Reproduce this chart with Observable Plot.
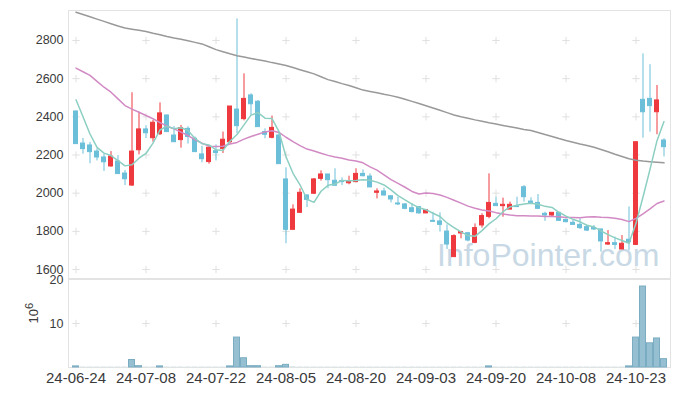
<!DOCTYPE html>
<html><head><meta charset="utf-8">
<script src="https://cdn.jsdelivr.net/npm/d3@7"></script>
<script src="https://cdn.jsdelivr.net/npm/@observablehq/plot@0.6"></script>
<style>
body{margin:0;background:#fff;}
#chart{width:673px;height:396px;position:relative;overflow:hidden;background:#fff;}
#chart svg{display:block;position:relative;overflow:visible;background:transparent;}
#wm{position:absolute;left:437px;top:239px;font:32px/32px "Liberation Sans",Arial,sans-serif;color:#c8d9e5;white-space:nowrap;}
</style></head><body><div id="chart"><div id="wm">InfoPointer.com</div></div>
<script>
const dates = ["24-06-24","24-06-25","24-06-26","24-06-27","24-06-28","24-07-01","24-07-02","24-07-03","24-07-04","24-07-05",
"24-07-08","24-07-09","24-07-10","24-07-11","24-07-12","24-07-15","24-07-16","24-07-17","24-07-18","24-07-19",
"24-07-22","24-07-23","24-07-24","24-07-25","24-07-26","24-07-29","24-07-30","24-07-31","24-08-01","24-08-02",
"24-08-05","24-08-06","24-08-07","24-08-08","24-08-09","24-08-12","24-08-13","24-08-14","24-08-16","24-08-19",
"24-08-20","24-08-21","24-08-22","24-08-23","24-08-26","24-08-27","24-08-28","24-08-29","24-08-30","24-09-02",
"24-09-03","24-09-04","24-09-05","24-09-06","24-09-09","24-09-10","24-09-11","24-09-12","24-09-13","24-09-19",
"24-09-20","24-09-23","24-09-24","24-09-25","24-09-26","24-09-27","24-09-30","24-10-02","24-10-04","24-10-07",
"24-10-08","24-10-10","24-10-11","24-10-14","24-10-15","24-10-16","24-10-17","24-10-18","24-10-21","24-10-22",
"24-10-23","24-10-24","24-10-25","24-10-28","24-10-29"];
const open = [2428,2260,2250,2218,2187,2140,2166,2103,2040,2225,
2334,2288,2309,2407,2302,2278,2337,2285,2203,2163,
2220,2232,2267,2438,2388,2512,2479,2320,2290,2302,
2072,1808,1897,1988,1997,2075,2098,2065,2063,2052,
2058,2101,2087,2002,2009,1984,1946,1941,1921,1927,
1894,1855,1852,1799,1665,1789,1790,1740,1831,1876,
1944,1932,1914,1930,2031,1956,1949,1892,1883,1897,
1860,1845,1834,1822,1818,1810,1731,1738,1705,1756,
1729,2489,2494,2424,2276];
const high = [2430,2287,2266,2232,2204,2218,2197,2119,2526,2424,
2353,2381,2473,2410,2349,2355,2348,2294,2246,2243,
2253,2320,2454,2913,2625,2521,2486,2337,2404,2320,
2133,1939,2023,1991,2077,2117,2098,2128,2080,2089,
2128,2122,2101,2023,2026,1984,1979,1946,1946,1927,
1911,1900,1897,1834,1782,1800,1795,1839,1892,2101,
1979,1974,1953,1979,2040,1976,1993,1900,1897,1897,
1865,1857,1866,1831,1831,1810,1804,1770,1778,1928,
2267,2730,2673,2564,2285];
const low = [2257,2204,2154,2169,2114,2136,2100,2040,2035,2201,
2286,2267,2302,2320,2267,2236,2257,2215,2159,2152,
2169,2208,2257,2311,2379,2407,2346,2285,2285,2152,
1735,1808,1897,1925,1993,2063,2023,2037,2040,2044,
2054,2085,2030,1970,1984,1949,1935,1913,1897,1890,
1894,1848,1796,1705,1665,1761,1745,1735,1817,1866,
1932,1874,1914,1927,1953,1949,1914,1852,1873,1852,
1845,1831,1810,1799,1804,1691,1726,1705,1705,1700,
1726,2288,2320,2306,2190];
const close = [2257,2231,2215,2187,2162,2192,2100,2073,2218,2334,
2314,2369,2418,2320,2267,2341,2294,2215,2178,2238,
2210,2280,2454,2351,2494,2466,2346,2306,2342,2152,
1808,1914,2002,1965,2072,2098,2068,2039,2058,2063,
2101,2089,2030,2009,1988,1967,1941,1918,1901,1894,
1911,1850,1834,1731,1775,1796,1752,1817,1880,1949,
1932,1939,1939,1927,1979,1949,1918,1883,1897,1855,
1848,1834,1817,1804,1810,1747,1738,1729,1735,1743,
2267,2424,2456,2486,2241];
const ma5 = [2489,2400,2310,2240,2210,2197,2171,2143,2149,2183,
2208,2262,2331,2351,2338,2343,2328,2287,2259,2253,
2227,2224,2272,2307,2358,2409,2422,2393,2391,2322,
2191,2104,2044,1968,1952,2010,2041,2048,2067,2065,
2066,2070,2068,2058,2043,2017,1987,1965,1943,1924,
1913,1895,1878,1844,1820,1797,1778,1774,1804,1839,
1866,1903,1928,1937,1943,1947,1942,1931,1925,1900,
1880,1863,1850,1832,1823,1802,1783,1766,1752,1738,
1842,1980,2125,2275,2375];
const ma20 = [2655,2636,2617,2586,2555,2529,2494,2459,2440,2424,
2407,2390,2370,2351,2337,2320,2302,2280,2262,2246,
2244,2246,2258,2266,2283,2297,2309,2321,2327,2318,
2293,2270,2249,2231,2221,2209,2198,2189,2183,2174,
2169,2159,2138,2121,2096,2071,2051,2031,2009,1996,
2001,1998,1990,1978,1963,1948,1932,1921,1912,1907,
1898,1891,1886,1882,1882,1881,1880,1878,1878,1876,
1873,1872,1871,1875,1876,1874,1873,1869,1862,1851,
1868,1892,1918,1946,1959];
const ma120 = [2948,2936,2924,2912,2900,2888,2876,2865,2859,2853,
2847,2838,2830,2821,2813,2806,2798,2790,2782,2767,
2752,2741,2730,2720,2713,2706,2699,2692,2684,2677,
2669,2658,2647,2636,2625,2610,2595,2585,2574,2564,
2552,2540,2533,2526,2518,2511,2503,2492,2481,2470,
2458,2446,2434,2422,2410,2400,2392,2384,2377,2369,
2362,2355,2348,2341,2334,2328,2318,2307,2297,2286,
2276,2267,2258,2250,2241,2229,2217,2204,2192,2180,
2172,2168,2165,2162,2159];
const volume = [0.25,0.05,0.05,0.05,0.05,0.05,0.05,0.05,1.7,0.3,
0.05,0.05,0.25,0.05,0.05,0.05,0.05,0.05,0.05,0.05,
0.05,0.05,0.25,6.8,2.1,0.3,0.3,0.05,0.05,0.3,
0.6,0.08,0.05,0.05,0.05,0.05,0.05,0.05,0.05,0.05,
0.05,0.05,0.05,0.05,0.05,0.05,0.05,0.05,0.05,0.05,
0.05,0.05,0.05,0.05,0.05,0.05,0.05,0.05,0.05,0.25,
0.05,0.05,0.05,0.05,0.05,0.05,0.05,0.05,0.05,0.05,
0.05,0.05,0.05,0.05,0.05,0.05,0.05,0.05,0.05,0.25,
6.8,18.4,5.5,6.6,1.9];
const priceTicks = [1600,1800,2000,2200,2400,2600,2800];
const volumeTicks = [10,20];
const xTickLabels = ["24-06-24","24-07-08","24-07-22","24-08-05","24-08-20","24-09-03","24-09-20","24-10-08","24-10-23"];
const volumeLabelBase = "10", volumeLabelExp = "6";

const RED = "#ee3a3e", BLUE = "#6cbfd9";
const rows = dates.map((d, i) => ({date: d, open: open[i], high: high[i], low: low[i], close: close[i],
  ma5: ma5[i], ma20: ma20[i], ma120: ma120[i], vol: volume[i]}));
const col = d => d.close >= d.open ? RED : BLUE;
const crossesP = xTickLabels.flatMap(d => priceTicks.map(v => ({date: d, v})));
const crossesV = xTickLabels.map(d => ({date: d, v: 10}));

const W = 673, ML = 68, MR = 3;
const xBase = {type: "band", domain: dates, paddingInner: 0, paddingOuter: 0};
const style = {fontFamily: "Liberation Sans, Arial, sans-serif", fontSize: "12.5px", color: "#3a3a3a", background: "transparent", overflow: "visible"};

const price = Plot.plot({
  width: W, height: 279, marginTop: 10, marginBottom: 1, marginLeft: ML, marginRight: MR,
  style,
  x: {...xBase, axis: null},
  y: {domain: [1553, 2957], ticks: priceTicks, tickSize: 0, tickPadding: 5, label: null, tickFormat: d => String(d)},
  marks: [
    Plot.frame({stroke: "#e3e3e3"}),
    Plot.dot(crossesP, {x: "date", y: "v", symbol: "plus", r: 2.5, stroke: "#e0e0e0", strokeWidth: 1}),
    Plot.ruleX(rows, {x: "date", y1: "low", y2: "high", stroke: col, strokeWidth: 1}),
    Plot.barY(rows, {x: "date", y1: "open", y2: "close", fill: col, stroke: col, strokeWidth: 1, insetLeft: 1.5, insetRight: 1.5}),
    Plot.line(rows, {x: "date", y: "ma120", stroke: "#999999", strokeWidth: 1.5}),
    Plot.line(rows, {x: "date", y: "ma20", stroke: "#d28ac4", strokeWidth: 1.5}),
    Plot.line(rows, {x: "date", y: "ma5", stroke: "#8ccfc2", strokeWidth: 1.5})
  ]
});

const vol = Plot.plot({
  width: W, height: 117, marginTop: 0, marginBottom: 29, marginLeft: ML, marginRight: MR,
  style,
  x: {...xBase, ticks: xTickLabels, tickSize: 0, tickPadding: 5, label: null},
  y: {domain: [0, 20], ticks: volumeTicks, tickSize: 0, tickPadding: 5, label: null},
  marks: [
    Plot.frame({stroke: "#e3e3e3"}),
    Plot.dot(crossesV, {x: "date", y: "v", symbol: "plus", r: 2.5, stroke: "#e0e0e0", strokeWidth: 1}),
    Plot.barY(rows, {x: "date", y: "vol", fill: "#96c0d1", insetLeft: 0.5, insetRight: 0.5}),
    Plot.barY(rows, {filter: d => d.vol >= 0.1, x: "date", y: "vol", fill: "none", stroke: "#7aacc2", strokeWidth: 1, insetLeft: 0.5, insetRight: 0.5}),
    Plot.text([volumeLabelBase], {frameAnchor: "left", dx: -35, rotate: -90, fontSize: 13, fill: "#3a3a3a"})
  ]
});

vol.querySelectorAll("text").forEach(t => {
  // x tick labels are drawn larger than the y tick labels in the reference
  if (xTickLabels.includes(t.textContent)) t.setAttribute("font-size", "15");
  // the volume unit label: 10 with a superscript 6
  if (t.textContent === volumeLabelBase && t.getAttribute("transform") && t.getAttribute("transform").includes("rotate")) {
    const sup = document.createElementNS("http://www.w3.org/2000/svg", "tspan");
    sup.textContent = volumeLabelExp;
    sup.setAttribute("dy", "-0.45em");
    sup.setAttribute("font-size", "11");
    t.appendChild(sup);
  }
});

const el = document.getElementById("chart");
el.appendChild(price);
el.appendChild(vol);
</script></body></html>
